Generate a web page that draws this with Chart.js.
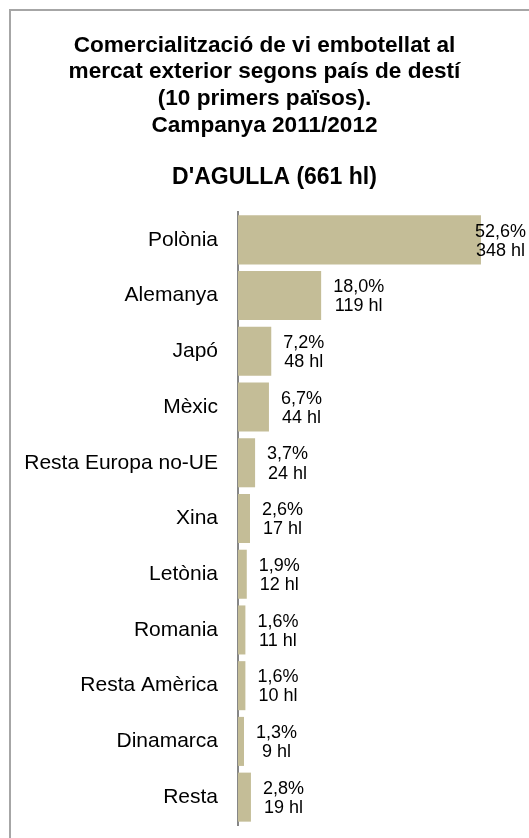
<!DOCTYPE html>
<html>
<head>
<meta charset="utf-8">
<script src="https://cdn.jsdelivr.net/npm/chart.js@4"></script>
<style>
  html, body { margin: 0; padding: 0; background: #ffffff; overflow: hidden; }
  #frame {
    position: absolute; left: 9px; top: 9px; width: 600px; height: 900px;
    border: 2px solid #a6a6a6; box-sizing: border-box;
  }
  #wrap { position: absolute; left: 0; top: 0; width: 529px; height: 838px; }
</style>
</head>
<body>
<div id="frame"></div>
<div id="wrap"><canvas id="chart" width="529" height="838"></canvas></div>
<script>
// Destination countries, share of bottled wine sold abroad (%) and volume (hl)
const countries = ['Polònia', 'Alemanya', 'Japó', 'Mèxic', 'Resta Europa no-UE', 'Xina',
                   'Letònia', 'Romania', 'Resta Amèrica', 'Dinamarca', 'Resta'];
const sharePct = [52.6, 18.0, 7.2, 6.7, 3.7, 2.6, 1.9, 1.6, 1.6, 1.3, 2.8];
const volumeHl = [348, 119, 48, 44, 24, 17, 12, 11, 10, 9, 19];

const titleLines = ['Comercialització de vi embotellat al',
                    'mercat exterior segons país de destí',
                    '(10 primers països).',
                    'Campanya 2011/2012'];
const subtitleText = "D'AGULLA (661 hl)";

const FONT = "'Liberation Sans', Arial, Helvetica, sans-serif";

const fmtPct = v => v.toFixed(1).replace('.', ',') + '%';

// Variety heading under the main title
const varietyHeading = {
  id: 'varietyHeading',
  afterDraw(chart) {
    const ctx = chart.ctx;
    ctx.save();
    ctx.font = 'bold 23px ' + FONT;
    ctx.fillStyle = '#000000';
    ctx.textAlign = 'center';
    ctx.textBaseline = 'middle';
    ctx.fillText(subtitleText, 274.5, 178);
    ctx.restore();
  }
};

// Two-line value label (share + volume) to the right of each bar
const valueLabels = {
  id: 'valueLabels',
  afterDatasetsDraw(chart) {
    const ctx = chart.ctx;
    const meta = chart.getDatasetMeta(0);
    ctx.save();
    ctx.font = '18px ' + FONT;
    ctx.fillStyle = '#000000';
    ctx.textAlign = 'center';
    ctx.textBaseline = 'middle';
    meta.data.forEach((bar, i) => {
      const l1 = fmtPct(sharePct[i]);
      const l2 = volumeHl[i] + ' hl';
      const w = Math.max(ctx.measureText(l1).width, ctx.measureText(l2).width);
      let cx = bar.x + 12 + w / 2;
      if (cx + w / 2 > chart.width - 3) cx = chart.width - 3 - w / 2;
      ctx.fillText(l1, cx, bar.y - 8.3);
      ctx.fillText(l2, cx, bar.y + 10.8);
    });
    ctx.restore();
  }
};

new Chart(document.getElementById('chart'), {
  type: 'bar',
  data: {
    labels: countries,
    datasets: [{
      data: sharePct,
      backgroundColor: '#c4bd97',
      borderWidth: 0,
      barPercentage: 0.88,
      categoryPercentage: 1.0
    }]
  },
  options: {
    indexAxis: 'y',
    responsive: false,
    animation: false,
    devicePixelRatio: 1,
    layout: { padding: { left: 0, right: 0, top: 0, bottom: 13 } },
    plugins: {
      legend: { display: false },
      tooltip: { enabled: false },
      title: {
        display: true,
        text: titleLines,
        color: '#000000',
        font: { family: FONT, size: 22.6, weight: 'bold', lineHeight: '26.7px' },
        padding: { top: 32, bottom: 73.2 }
      }
    },
    scales: {
      x: {
        display: false,
        min: 0,
        max: 63
      },
      y: {
        grid: { display: false, drawTicks: true, tickLength: 20 },
        border: { display: true, color: '#868686', width: 2 },
        ticks: {
          color: '#000000',
          padding: 0,
          font: { family: FONT, size: 21 }
        },
        afterFit(scale) { scale.width = 238; }
      }
    }
  },
  plugins: [valueLabels, varietyHeading]
});
</script>
</body>
</html>
